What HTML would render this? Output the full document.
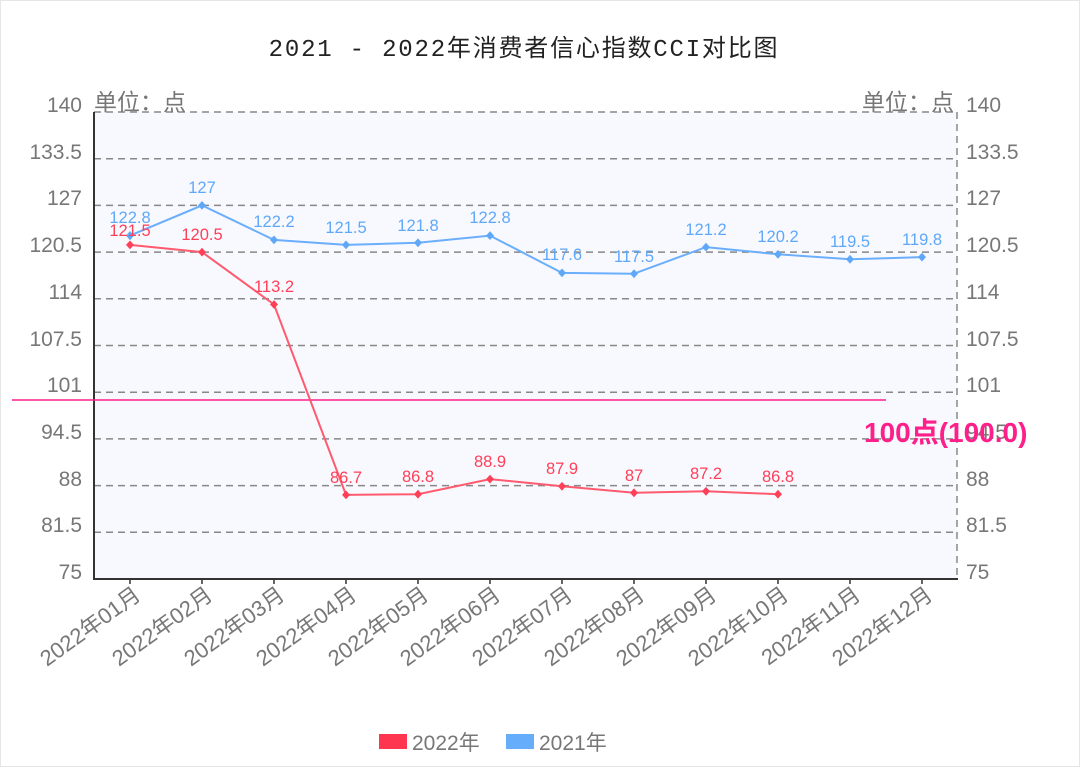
<!DOCTYPE html><html><head><meta charset="utf-8"><style>body{margin:0;background:#fff}svg{display:block;font-family:"Liberation Sans","Noto Sans CJK SC",sans-serif}</style></head><body>
<svg width="1080" height="767" viewBox="0 0 1080 767">
<rect x="0.5" y="0.5" width="1079" height="766" fill="#fff" stroke="#e6e6e6"/>
<text x="524" y="56" font-size="24" letter-spacing="1.8" text-anchor="middle" fill="#222" font-family="Liberation Mono, Noto Sans CJK SC, monospace">2021 - 2022年消费者信心指数CCI对比图</text>
<rect x="94" y="112" width="863" height="467" fill="#f8f9ff"/>
<g stroke="#888" stroke-width="1.5" stroke-dasharray="7,5">
<line x1="94" x2="957" y1="112" y2="112"/><line x1="94" x2="957" y1="158.7" y2="158.7"/><line x1="94" x2="957" y1="205.4" y2="205.4"/><line x1="94" x2="957" y1="252.1" y2="252.1"/><line x1="94" x2="957" y1="298.8" y2="298.8"/><line x1="94" x2="957" y1="345.5" y2="345.5"/><line x1="94" x2="957" y1="392.2" y2="392.2"/><line x1="94" x2="957" y1="438.9" y2="438.9"/><line x1="94" x2="957" y1="485.6" y2="485.6"/><line x1="94" x2="957" y1="532.3" y2="532.3"/>
<line x1="957" x2="957" y1="112" y2="579"/>
</g>
<line x1="94" x2="94" y1="112" y2="580" stroke="#333" stroke-width="2"/>
<line x1="93" x2="958" y1="579" y2="579" stroke="#333" stroke-width="2"/>
<g stroke="#333" stroke-width="1.5"><line x1="130" x2="130" y1="579" y2="584"/><line x1="202" x2="202" y1="579" y2="584"/><line x1="274" x2="274" y1="579" y2="584"/><line x1="346" x2="346" y1="579" y2="584"/><line x1="418" x2="418" y1="579" y2="584"/><line x1="490" x2="490" y1="579" y2="584"/><line x1="562" x2="562" y1="579" y2="584"/><line x1="634" x2="634" y1="579" y2="584"/><line x1="706" x2="706" y1="579" y2="584"/><line x1="778" x2="778" y1="579" y2="584"/><line x1="850" x2="850" y1="579" y2="584"/><line x1="922" x2="922" y1="579" y2="584"/></g>
<g font-size="21" fill="#777" text-anchor="end">
<text x="82" y="112">140</text><text x="82" y="159">133.5</text><text x="82" y="205">127</text><text x="82" y="252">120.5</text><text x="82" y="299">114</text><text x="82" y="346">107.5</text><text x="82" y="392">101</text><text x="82" y="439">94.5</text><text x="82" y="486">88</text><text x="82" y="532">81.5</text><text x="82" y="579">75</text>
</g>
<g font-size="21" fill="#777">
<text x="966" y="112">140</text><text x="966" y="159">133.5</text><text x="966" y="205">127</text><text x="966" y="252">120.5</text><text x="966" y="299">114</text><text x="966" y="346">107.5</text><text x="966" y="392">101</text><text x="966" y="439">94.5</text><text x="966" y="486">88</text><text x="966" y="532">81.5</text><text x="966" y="579">75</text>
<text x="94" y="110" font-size="23">单位：点</text><text x="954" y="110" font-size="23" text-anchor="end">单位：点</text>
</g>
<line x1="12" x2="886" y1="400" y2="400" stroke="#ff1f8a" stroke-width="1.5"/>
<text x="864" y="442" font-size="28" font-weight="bold" fill="#ff1f8a">100点(100.0)</text>
<polyline fill="none" stroke="#6aaefc" stroke-width="2" points="130,235.6 202,205.4 274,239.9 346,244.9 418,242.8 490,235.6 562,272.9 634,273.7 706,247.1 778,254.3 850,259.3 922,257.1"/>
<polyline fill="none" stroke="#ff5a6e" stroke-width="2" points="130,244.9 202,252.1 274,304.5 346,494.9 418,494.2 490,479.1 562,486.3 634,492.8 706,491.3 778,494.2"/>
<g fill="#5fa8f8"><path d="M130 231l4 4.6-4 4.6-4-4.6z"/><path d="M202 201l4 4.4-4 4.4-4-4.4z"/><path d="M274 235.5l4 4.4-4 4.4-4-4.4z"/><path d="M346 240.5l4 4.4-4 4.4-4-4.4z"/><path d="M418 238.4l4 4.4-4 4.4-4-4.4z"/><path d="M490 231.2l4 4.4-4 4.4-4-4.4z"/><path d="M562 268.5l4 4.4-4 4.4-4-4.4z"/><path d="M634 269.3l4 4.4-4 4.4-4-4.4z"/><path d="M706 242.7l4 4.4-4 4.4-4-4.4z"/><path d="M778 249.9l4 4.4-4 4.4-4-4.4z"/><path d="M850 254.9l4 4.4-4 4.4-4-4.4z"/><path d="M922 252.7l4 4.4-4 4.4-4-4.4z"/></g>
<g fill="#ff4058"><path d="M130 240.5l4 4.4-4 4.4-4-4.4z"/><path d="M202 247.7l4 4.4-4 4.4-4-4.4z"/><path d="M274 300.1l4 4.4-4 4.4-4-4.4z"/><path d="M346 490.5l4 4.4-4 4.4-4-4.4z"/><path d="M418 489.8l4 4.4-4 4.4-4-4.4z"/><path d="M490 474.7l4 4.4-4 4.4-4-4.4z"/><path d="M562 481.9l4 4.4-4 4.4-4-4.4z"/><path d="M634 488.4l4 4.4-4 4.4-4-4.4z"/><path d="M706 486.9l4 4.4-4 4.4-4-4.4z"/><path d="M778 489.8l4 4.4-4 4.4-4-4.4z"/></g>
<g font-size="16.5" fill="#5fa8f8" text-anchor="middle">
<text x="130" y="223">122.8</text><text x="202" y="193">127</text><text x="274" y="227">122.2</text><text x="346" y="233">121.5</text><text x="418" y="231">121.8</text><text x="490" y="223">122.8</text><text x="562" y="260">117.6</text><text x="634" y="262">117.5</text><text x="706" y="235">121.2</text><text x="778" y="242">120.2</text><text x="850" y="247">119.5</text><text x="922" y="245">119.8</text>
</g>
<g font-size="16.5" fill="#ff4058" text-anchor="middle">
<text x="130" y="236">121.5</text><text x="202" y="240">120.5</text><text x="274" y="292">113.2</text><text x="346" y="483">86.7</text><text x="418" y="482">86.8</text><text x="490" y="467">88.9</text><text x="562" y="474">87.9</text><text x="634" y="481">87</text><text x="706" y="479">87.2</text><text x="778" y="482">86.8</text>
</g>
<g font-size="22" fill="#777" text-anchor="end">
<text transform="translate(142,598) rotate(-36)">2022年01月</text><text transform="translate(214,598) rotate(-36)">2022年02月</text><text transform="translate(286,598) rotate(-36)">2022年03月</text><text transform="translate(358,598) rotate(-36)">2022年04月</text><text transform="translate(430,598) rotate(-36)">2022年05月</text><text transform="translate(502,598) rotate(-36)">2022年06月</text><text transform="translate(574,598) rotate(-36)">2022年07月</text><text transform="translate(646,598) rotate(-36)">2022年08月</text><text transform="translate(718,598) rotate(-36)">2022年09月</text><text transform="translate(790,598) rotate(-36)">2022年10月</text><text transform="translate(862,598) rotate(-36)">2022年11月</text><text transform="translate(934,598) rotate(-36)">2022年12月</text>
</g>
<rect x="379" y="734" width="28" height="15" fill="#ff3650"/>
<text x="412" y="750" font-size="21" fill="#777">2022年</text>
<rect x="506" y="734" width="28" height="15" fill="#66aefc"/>
<text x="539" y="750" font-size="21" fill="#777">2021年</text>
</svg></body></html>
